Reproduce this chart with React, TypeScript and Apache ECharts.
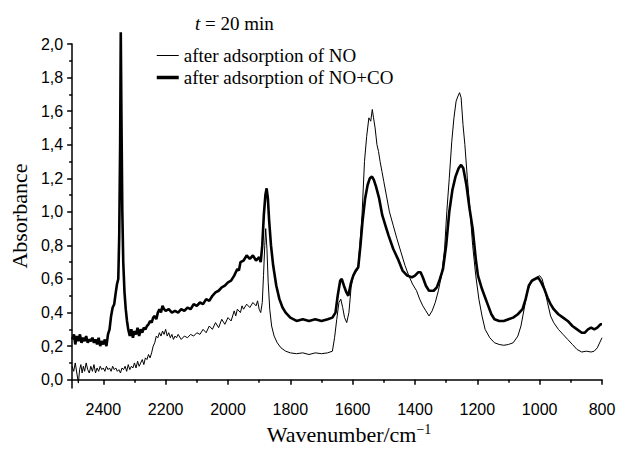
import React, { useEffect, useRef } from "react";
import * as echarts from "echarts";

// Wavenumber (cm-1), absorbance — thin line: after adsorption of NO
const noSpectrum: [number, number][] = [
  [2500, 0.08], [2495, 0.05], [2490, 0.1], [2485, 0.04], [2480, -0.02], [2476, 0.06], [2472, 0.09], [2468, 0.04],
  [2464, 0.08], [2460, 0.05], [2455, 0.1], [2450, 0.06], [2445, 0.04], [2440, 0.08], [2435, 0.05], [2430, 0.09],
  [2425, 0.04], [2420, 0.07], [2415, 0.05], [2410, 0.08], [2405, 0.06], [2400, 0.07], [2395, 0.05], [2390, 0.08],
  [2385, 0.06], [2380, 0.07], [2375, 0.05], [2370, 0.08], [2365, 0.06], [2360, 0.07], [2355, 0.05], [2350, 0.06],
  [2345, 0.04], [2340, 0.07], [2335, 0.06], [2330, 0.08], [2325, 0.05], [2320, 0.09], [2315, 0.06], [2310, 0.08],
  [2305, 0.07], [2300, 0.1], [2295, 0.07], [2290, 0.11], [2285, 0.08], [2280, 0.1], [2275, 0.12], [2270, 0.09],
  [2265, 0.13], [2260, 0.12], [2255, 0.15], [2250, 0.13], [2245, 0.16], [2240, 0.2], [2235, 0.22], [2230, 0.26],
  [2225, 0.25], [2220, 0.28], [2215, 0.26], [2210, 0.29], [2205, 0.27], [2200, 0.3], [2195, 0.26], [2190, 0.28],
  [2185, 0.25], [2180, 0.27], [2175, 0.24], [2170, 0.26], [2165, 0.25], [2160, 0.27], [2150, 0.24], [2140, 0.26],
  [2130, 0.25], [2120, 0.27], [2110, 0.26], [2100, 0.28], [2090, 0.27], [2080, 0.3], [2070, 0.28], [2060, 0.32],
  [2050, 0.3], [2040, 0.34], [2030, 0.31], [2020, 0.36], [2010, 0.33], [2000, 0.37], [1990, 0.35], [1980, 0.41],
  [1975, 0.38], [1970, 0.42], [1960, 0.4], [1955, 0.44], [1950, 0.42], [1940, 0.45], [1930, 0.43], [1920, 0.46],
  [1910, 0.44], [1905, 0.47], [1900, 0.42], [1895, 0.4], [1890, 0.46], [1886, 0.62], [1882, 0.8], [1879, 0.9],
  [1875, 0.78], [1871, 0.58], [1866, 0.42], [1860, 0.32], [1852, 0.26], [1842, 0.22], [1830, 0.19], [1815, 0.17],
  [1800, 0.16], [1780, 0.155], [1760, 0.16], [1740, 0.15], [1720, 0.16], [1700, 0.155], [1680, 0.16], [1665, 0.17],
  [1658, 0.25], [1651, 0.36], [1644, 0.46], [1638, 0.48], [1632, 0.43], [1626, 0.37], [1619, 0.34], [1612, 0.4],
  [1605, 0.55], [1598, 0.62], [1590, 0.64], [1583, 0.66], [1577, 0.8], [1570, 0.98], [1562, 1.3], [1555, 1.45],
  [1548, 1.56], [1542, 1.54], [1537, 1.61], [1533, 1.56], [1528, 1.5], [1522, 1.4], [1517, 1.36], [1512, 1.3],
  [1506, 1.24], [1500, 1.18], [1492, 1.1], [1482, 1.0], [1470, 0.92], [1458, 0.84], [1445, 0.76], [1432, 0.68],
  [1420, 0.62], [1408, 0.57], [1395, 0.53], [1385, 0.48], [1375, 0.44], [1365, 0.41], [1355, 0.38], [1345, 0.41],
  [1335, 0.46], [1325, 0.53], [1315, 0.62], [1305, 0.78], [1298, 1.0], [1290, 1.2], [1282, 1.42], [1275, 1.56],
  [1268, 1.66], [1262, 1.69], [1257, 1.71], [1252, 1.68], [1246, 1.52], [1240, 1.4], [1232, 1.2], [1224, 1.02],
  [1215, 0.8], [1205, 0.62], [1195, 0.48], [1185, 0.38], [1175, 0.3], [1160, 0.25], [1145, 0.22], [1130, 0.21],
  [1115, 0.205], [1100, 0.21], [1085, 0.22], [1070, 0.26], [1060, 0.32], [1050, 0.42], [1040, 0.52], [1030, 0.57],
  [1020, 0.59], [1010, 0.61], [1000, 0.62], [992, 0.6], [985, 0.55], [975, 0.46], [965, 0.38], [955, 0.34],
  [940, 0.3], [925, 0.27], [910, 0.24], [895, 0.21], [880, 0.18], [865, 0.165], [850, 0.17], [835, 0.165],
  [825, 0.17], [815, 0.19], [805, 0.23], [800, 0.25],
];

// Thick line: after adsorption of NO+CO
const noCoSpectrum: [number, number][] = [
  [2500, 0.24], [2494, 0.27], [2490, 0.21], [2485, 0.26], [2480, 0.23], [2475, 0.27], [2470, 0.22], [2465, 0.25],
  [2460, 0.23], [2455, 0.26], [2450, 0.22], [2445, 0.24], [2440, 0.23], [2435, 0.25], [2430, 0.22], [2425, 0.24],
  [2420, 0.21], [2415, 0.25], [2410, 0.2], [2405, 0.23], [2400, 0.21], [2395, 0.24], [2390, 0.2], [2385, 0.27],
  [2380, 0.3], [2375, 0.38], [2370, 0.43], [2365, 0.45], [2360, 0.52], [2356, 0.57], [2352, 0.6], [2349, 0.85],
  [2346, 1.4], [2344, 2.07], [2342, 1.6], [2339, 1.0], [2336, 0.7], [2332, 0.52], [2328, 0.42], [2324, 0.35],
  [2320, 0.3], [2315, 0.26], [2310, 0.3], [2305, 0.25], [2300, 0.29], [2295, 0.27], [2290, 0.31], [2285, 0.26],
  [2280, 0.3], [2275, 0.28], [2270, 0.31], [2265, 0.3], [2260, 0.32], [2255, 0.33], [2250, 0.35], [2245, 0.34],
  [2240, 0.37], [2235, 0.38], [2230, 0.36], [2225, 0.4], [2220, 0.42], [2215, 0.4], [2210, 0.44], [2205, 0.42],
  [2200, 0.41], [2190, 0.42], [2180, 0.4], [2170, 0.41], [2160, 0.4], [2150, 0.42], [2140, 0.41], [2130, 0.43],
  [2120, 0.42], [2110, 0.45], [2100, 0.44], [2090, 0.46], [2080, 0.45], [2070, 0.48], [2060, 0.47], [2050, 0.5],
  [2040, 0.52], [2030, 0.53], [2020, 0.55], [2010, 0.56], [2000, 0.58], [1990, 0.59], [1980, 0.62], [1975, 0.64],
  [1970, 0.66], [1965, 0.65], [1960, 0.7], [1950, 0.71], [1940, 0.74], [1930, 0.72], [1920, 0.74], [1910, 0.71],
  [1900, 0.73], [1895, 0.7], [1890, 0.8], [1885, 0.98], [1880, 1.1], [1876, 1.14], [1872, 1.08], [1868, 0.95],
  [1862, 0.8], [1855, 0.68], [1845, 0.56], [1835, 0.48], [1825, 0.43], [1815, 0.4], [1800, 0.37], [1780, 0.35],
  [1760, 0.36], [1740, 0.35], [1720, 0.36], [1700, 0.35], [1680, 0.36], [1665, 0.37], [1655, 0.4], [1648, 0.5],
  [1640, 0.59], [1635, 0.6], [1628, 0.56], [1620, 0.52], [1614, 0.5], [1605, 0.58], [1598, 0.62], [1590, 0.65],
  [1582, 0.67], [1575, 0.8], [1568, 0.95], [1560, 1.08], [1552, 1.16], [1545, 1.2], [1538, 1.21], [1532, 1.19],
  [1525, 1.15], [1515, 1.08], [1505, 0.98], [1495, 0.92], [1485, 0.86], [1470, 0.78], [1455, 0.72], [1440, 0.65],
  [1425, 0.62], [1410, 0.61], [1400, 0.62], [1390, 0.64], [1382, 0.64], [1375, 0.61], [1365, 0.56], [1355, 0.53],
  [1340, 0.53], [1330, 0.55], [1320, 0.6], [1310, 0.66], [1300, 0.8], [1290, 1.0], [1280, 1.13], [1270, 1.21],
  [1260, 1.26], [1252, 1.28], [1245, 1.26], [1235, 1.16], [1225, 1.02], [1215, 0.9], [1205, 0.72], [1198, 0.62],
  [1185, 0.54], [1175, 0.49], [1165, 0.44], [1155, 0.39], [1145, 0.36], [1130, 0.35], [1115, 0.35], [1100, 0.36],
  [1085, 0.37], [1070, 0.39], [1055, 0.42], [1045, 0.48], [1035, 0.56], [1025, 0.59], [1015, 0.6], [1005, 0.61],
  [995, 0.58], [985, 0.54], [975, 0.49], [965, 0.45], [955, 0.42], [940, 0.39], [925, 0.37], [910, 0.35],
  [895, 0.32], [880, 0.3], [865, 0.28], [855, 0.28], [845, 0.3], [835, 0.31], [825, 0.3], [815, 0.31],
  [805, 0.33], [800, 0.33],
];

const xMajorTicks = [800, 1000, 1200, 1400, 1600, 1800, 2000, 2200, 2400];
const xMinorTicks = [900, 1100, 1300, 1500, 1700, 1900, 2100, 2300];
const yMajorTicks = [0, 0.2, 0.4, 0.6, 0.8, 1.0, 1.2, 1.4, 1.6, 1.8, 2.0];
const yMinorTicks = [0.1, 0.3, 0.5, 0.7, 0.9, 1.1, 1.3, 1.5, 1.7, 1.9];

const seriesNames = ["after adsorption of NO", "after adsorption of NO+CO"];

const SERIF = "'Liberation Serif', 'Times New Roman', serif";
const SANS = "'Liberation Sans', Arial, sans-serif";

export default function App() {
  const ref = useRef<HTMLDivElement>(null);
  useEffect(() => {
    if (!ref.current) return;
    const chart = echarts.init(ref.current, undefined, { renderer: "svg" });
    const X_MIN = 800, X_MAX = 2500, Y_MIN = -0.05, Y_MAX = 2.0;
    const axisLineStyle = { color: "#000", width: 1.5 };
    chart.setOption({
      animation: false,
      backgroundColor: "#fff",
      title: {
        text: "{i|t} = 20 min",
        left: 190,
        top: 9,
        textStyle: {
          fontFamily: SERIF, fontSize: 19, fontWeight: "normal", color: "#000",
          rich: { i: { fontFamily: SERIF, fontSize: 19, fontStyle: "italic", color: "#000" } },
        },
      },
      legend: {
        orient: "vertical",
        left: 150,
        top: 41,
        itemWidth: 22,
        itemHeight: 14,
        itemGap: 3,
        itemStyle: { opacity: 0 },
        textStyle: { fontFamily: SERIF, fontSize: 19, color: "#000" },
        data: [
          { name: seriesNames[0], lineStyle: { width: 1, color: "#000" }, itemStyle: { opacity: 0 } },
          { name: seriesNames[1], lineStyle: { width: 3.5, color: "#000" }, itemStyle: { opacity: 0 } },
        ],
      },
      grid: { left: 71, right: 18, top: 44, bottom: 59, containLabel: false },
      xAxis: [
        {
          type: "value", min: X_MIN, max: X_MAX, inverse: true,
          name: "Wavenumber/cm{sup|−1}",
          nameLocation: "middle", nameGap: 33,
          nameTextStyle: {
            fontFamily: SERIF, fontSize: 22, color: "#000", padding: [0, 0, 0, 24],
            rich: { sup: { fontFamily: SERIF, fontSize: 14, color: "#000", padding: [0, 0, 10, 0] } },
          },
          axisLine: { show: true, lineStyle: axisLineStyle },
          axisTick: { show: true, length: 5, lineStyle: axisLineStyle, customValues: xMajorTicks },
          axisLabel: {
            customValues: xMajorTicks, margin: 13,
            fontFamily: SANS, fontSize: 16, color: "#000",
            formatter: (v: number) => String(v),
          },
          splitLine: { show: false },
        },
        {
          type: "value", min: X_MIN, max: X_MAX, inverse: true, position: "bottom", gridIndex: 0,
          axisLine: { show: false },
          axisTick: { show: true, length: 3, lineStyle: axisLineStyle, customValues: xMinorTicks },
          axisLabel: { show: false },
          splitLine: { show: false },
        },
      ],
      yAxis: [
        {
          type: "value", min: Y_MIN, max: Y_MAX, position: "left",
          name: "Absorbance",
          nameLocation: "middle", nameGap: 42,
          nameTextStyle: { fontFamily: SERIF, fontSize: 22, color: "#000" },
          axisLine: { show: true, lineStyle: axisLineStyle },
          axisTick: { show: true, length: 5, lineStyle: axisLineStyle, customValues: yMajorTicks },
          axisLabel: {
            customValues: yMajorTicks, margin: 9,
            fontFamily: SANS, fontSize: 16, color: "#000",
            formatter: (v: number) => v.toFixed(1).replace(".", ","),
          },
          splitLine: { show: false },
        },
        {
          type: "value", min: Y_MIN, max: Y_MAX, position: "left", gridIndex: 0,
          axisLine: { show: false },
          axisTick: { show: true, length: 3, lineStyle: axisLineStyle, customValues: yMinorTicks },
          axisLabel: { show: false },
          splitLine: { show: false },
        },
      ],
      series: [
        {
          name: seriesNames[0], type: "line", data: noSpectrum, xAxisIndex: 0, yAxisIndex: 0,
          showSymbol: false, symbol: "none", clip: false,
          lineStyle: { color: "#000", width: 1 },
          itemStyle: { color: "#000" },
        },
        {
          name: seriesNames[1], type: "line", data: noCoSpectrum, xAxisIndex: 0, yAxisIndex: 0,
          showSymbol: false, symbol: "none", clip: false,
          lineStyle: { color: "#000", width: 2.6 },
          itemStyle: { color: "#000" },
        },
      ],
    });
    return () => chart.dispose();
  }, []);
  return <div ref={ref} style={{ position: "absolute", left: 0, top: 0, width: 620, height: 450 }} />;
}
